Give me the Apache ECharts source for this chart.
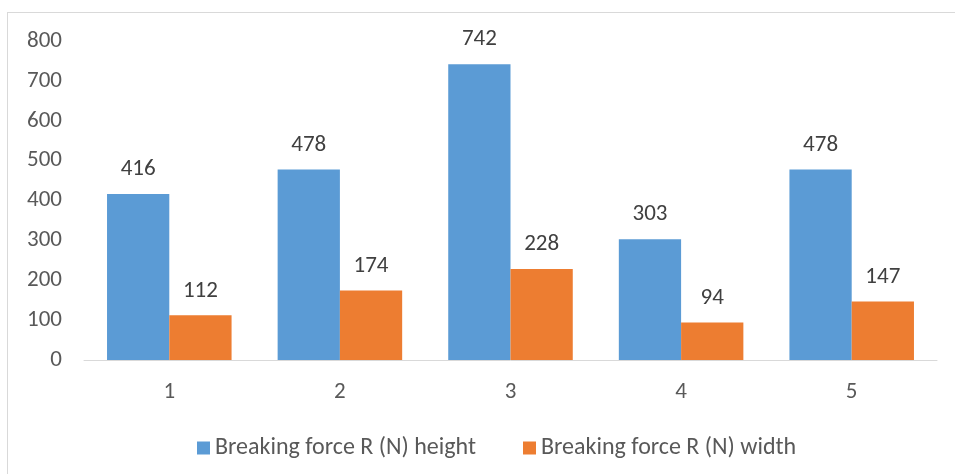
<!DOCTYPE html>
<html>
<head>
<meta charset="utf-8">
<script src="https://cdn.jsdelivr.net/npm/echarts@6/dist/echarts.min.js"></script>
<style>
  html, body { margin: 0; padding: 0; background: #fff; }
  #frame { position: absolute; left: 7px; top: 12px; width: 960px; height: 480px; border: 1px solid #d9d9d9; box-sizing: border-box; }
  #chart { position: absolute; left: 0; top: 0; width: 955px; height: 474px; }
</style>
</head>
<body>
<div id="frame"></div>
<div id="chart"></div>
<script>
const categories = ['1', '2', '3', '4', '5'];
const heightForce = [416, 478, 742, 303, 478];
const widthForce = [112, 174, 228, 94, 147];
const seriesNames = ['Breaking force R (N) height', 'Breaking force R (N) width'];

const FONT = 'Carlito, Lato, "Liberation Sans", sans-serif';
const chart = echarts.init(document.getElementById('chart'), null, { renderer: 'canvas' });

const labelStyle = {
  show: true,
  position: 'top',
  distance: 13,
  color: '#404040',
  fontFamily: FONT,
  fontSize: 23
};

chart.setOption({
  animation: false,
  textStyle: { fontFamily: FONT },
  grid: { left: 84, right: 18, top: 41, bottom: 114, containLabel: false },
  legend: {
    top: 431,
    left: 192,
    itemWidth: 13,
    itemHeight: 13,
    itemGap: 47,
    icon: 'rect',
    textStyle: { color: '#595959', fontSize: 24, fontFamily: FONT },
    data: seriesNames
  },
  xAxis: {
    type: 'category',
    data: categories,
    axisLine: { lineStyle: { color: '#d9d9d9', width: 1 } },
    axisTick: { show: false },
    axisLabel: { color: '#595959', fontSize: 23, fontFamily: FONT, margin: 21 }
  },
  yAxis: {
    type: 'value',
    min: 0,
    max: 800,
    interval: 100,
    splitLine: { show: false },
    axisLine: { show: false },
    axisTick: { show: false },
    axisLabel: { color: '#595959', fontSize: 23, fontFamily: FONT, margin: 22 }
  },
  series: [
    {
      name: seriesNames[0],
      type: 'bar',
      data: heightForce,
      barGap: '0%',
      barCategoryGap: '27%',
      itemStyle: { color: '#5b9bd5' },
      label: labelStyle
    },
    {
      name: seriesNames[1],
      type: 'bar',
      data: widthForce,
      itemStyle: { color: '#ed7d31' },
      label: labelStyle
    }
  ]
});
</script>
</body>
</html>
